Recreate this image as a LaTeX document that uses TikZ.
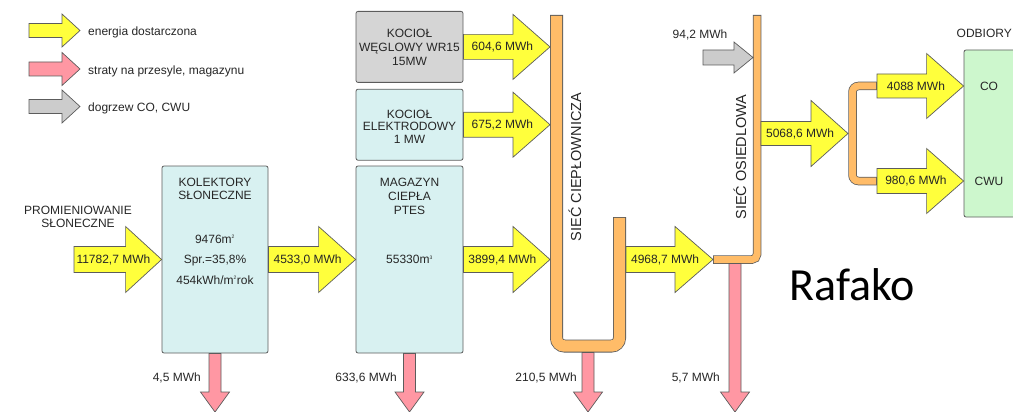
\documentclass[tikz,border=0pt]{standalone}
\usepackage{fontspec}
\setmainfont{Liberation Sans}
\newfontfamily\logofont{Carlito}
\usepackage{xcolor}
\usetikzlibrary{calc,positioning}
\definecolor{flowYellow}{HTML}{FFFF3C}
\definecolor{flowPink}{HTML}{FF97A3}
\definecolor{flowGrey}{HTML}{CCCCCC}
\definecolor{flowEdge}{HTML}{5C5C5C}
\definecolor{boxBlue}{HTML}{D8F1F1}
\definecolor{boxGrey}{HTML}{D5D5D5}
\definecolor{boxGreen}{HTML}{CDF7CD}
\definecolor{pipeOrange}{HTML}{FFBC68}
\definecolor{labelInk}{HTML}{262626}
\newcommand{\areaUnit}{m\textsuperscript{\fontsize{5}{5}\selectfont 2}}
\newcommand{\volUnit}{m\textsuperscript{\fontsize{5}{5}\selectfont 3}}
% block arrow: style, shaft half, head half, head length, from, to, name, text
\newcommand{\sideArrow}[8]{%
  \draw[#1] let \p1=#5, \p2=#6 in
    (\x1,\y1+#2) -- (\x2-#4,\y1+#2) -- (\x2-#4,\y1+#3) -- (\x2,\y1)
    -- (\x2-#4,\y1-#3) -- (\x2-#4,\y1-#2) -- (\x1,\y1-#2) -- cycle
    node[flowText] (#7) at ({\x1+0.45*(\x2-\x1)},\y1) {#8};}
% loss arrow pointing down
\newcommand{\dropArrow}[2]{%
  \draw[loss] let \p1=#1, \p2=#2 in
    (\x1-6pt,\y1) -- (\x1-6pt,\y2+20pt) -- (\x1-14.5pt,\y2+20pt) -- (\x1,\y2)
    -- (\x1+14.5pt,\y2+20pt) -- (\x1+6pt,\y2+20pt) -- (\x1+6pt,\y1) -- cycle;}
\tikzset{
  unit/.style={
    rectangle,
    rounded corners=2pt,
    draw=flowEdge,
    line width=0.8pt,
    inner sep=0pt
  },
  unitBlue/.style={unit, fill=boxBlue, minimum width=107pt},
  unitGrey/.style={unit, fill=boxGrey, minimum width=107pt},
  unitGreen/.style={unit, fill=boxGreen},
  unitText/.style={
    align=center,
    inner sep=0pt,
    text=labelInk,
    font=\fontsize{12}{14}\selectfont
  },
  flowText/.style={
    inner sep=0pt,
    text=labelInk,
    font=\fontsize{12}{13}\selectfont
  },
  pipeText/.style={
    inner sep=0pt,
    text=labelInk,
    font=\fontsize{14.5}{15}\selectfont
  },
  gain/.style={draw=flowEdge, line width=0.7pt, fill=flowYellow},
  loss/.style={draw=flowEdge, line width=0.7pt, fill=flowPink},
  extra/.style={draw=flowEdge, line width=0.7pt, fill=flowGrey},
  pipeOuter/.style={draw=flowEdge, line width=13pt},
  pipeInner/.style={draw=pipeOrange, line width=11.4pt, shorten <=0.8pt, shorten >=0.8pt}
}
\begin{document}
\begin{tikzpicture}[x=1pt,y=-1pt]
  \useasboundingbox (0,0) rectangle (1013,412);
  \coordinate (floor) at (0,412);

  % legend
  \coordinate (legGainA) at (29,30.5);
  \coordinate (legGainB) at (80,30.5);
  \coordinate (legLossA) at (29,69);
  \coordinate (legLossB) at (80,69);
  \coordinate (legExtraA) at (29,106.5);
  \coordinate (legExtraB) at (80,106.5);
  \sideArrow{gain}{7pt}{16.5pt}{18pt}{(legGainA)}{(legGainB)}{legGainMark}{}
  \sideArrow{loss}{7pt}{16.5pt}{18pt}{(legLossA)}{(legLossB)}{legLossMark}{}
  \sideArrow{extra}{7pt}{16.5pt}{18pt}{(legExtraA)}{(legExtraB)}{legExtraMark}{}
  \node[flowText, anchor=west] (legGain) at (88,32) {energia dostarczona};
  \node[flowText, anchor=west] (legLoss) at (88,71) {straty na przesyle, magazynu};
  \node[flowText, anchor=west] (legExtra) at (88,108) {dogrzew CO, CWU};

  % units
  \node[unitBlue, minimum width=106pt, minimum height=187pt] (kolektory) at (215,259.5) {};
  \node[unitBlue, minimum height=187pt] (magazyn) at (409.5,259.5) {};
  \node[unitBlue, minimum height=71pt, above=5pt of magazyn] (elektrodowy) {};
  \node[unitGrey, minimum height=71pt, above=6pt of elektrodowy] (weglowy) {};
  \node[unitGreen, minimum width=60pt, minimum height=167pt] (odbiory) at (994,133.5) {};

  \node[unitText, font=\fontsize{12}{13}\selectfont] (kolektoryName)
    at ([yshift=-23.5pt]kolektory.north) {KOLEKTORY\\SŁONECZNE};
  \node[unitText, font=\fontsize{12}{20.5}\selectfont] (kolektoryData)
    at (kolektory.center) {9476\areaUnit\\Spr.=35,8\%\\454kWh/\areaUnit rok};
  \node[unitText] (magazynName) at ([yshift=-31pt]magazyn.north) {MAGAZYN\\CIEPŁA\\PTES};
  \node[unitText] (magazynData) at (magazyn.center) {55330\volUnit};
  \node[unitText] (weglowyName) at ([yshift=-0.5pt]weglowy.center) {KOCIOŁ\\WĘGLOWY WR15\\15MW};
  \node[unitText, font=\fontsize{12}{12.5}\selectfont] (elektrodowyName)
    at ([yshift=-2pt]elektrodowy.center) {KOCIOŁ\\ELEKTRODOWY\\1 MW};
  \node[unitText] (odbioryCO) at (989,86) {CO};
  \node[unitText] (odbioryCWU) at (989,181) {CWU};
  \node[flowText, anchor=east] (odbioryName) at (1012,33) {ODBIORY};

  % pipes
  \draw[pipeOuter, rounded corners=8pt] (556.5,15) -- (556.5,346) -- (619.5,346) -- (619.5,217);
  \draw[pipeInner, rounded corners=8pt] (556.5,15) -- (556.5,346) -- (619.5,346) -- (619.5,217);
  \draw[pipeOuter, line width=8.5pt, rounded corners=5pt] (757,15) -- (757,259.5) -- (713,259.5);
  \draw[pipeInner, line width=7pt, rounded corners=5pt] (757,15) -- (757,259.5) -- (713,259.5);
  \draw[pipeOuter, line width=8.5pt, rounded corners=6pt] (877,86) -- (852.5,86) -- (852.5,181) -- (877,181);
  \draw[pipeInner, line width=7pt, rounded corners=6pt] (877,86) -- (852.5,86) -- (852.5,181) -- (877,181);
  \node[pipeText, rotate=90] (cieplowniczaName) at (575,167) {SIEĆ CIEPŁOWNICZA};
  \node[pipeText, rotate=90] (osiedlowaName) at (740,157) {SIEĆ OSIEDLOWA};

  \coordinate (sunIn) at (74,259.5);
  \coordinate (cpInA) at (550,48.5);
  \coordinate (cpInB) at (550,125.5);
  \coordinate (cpInC) at (550,259.5);
  \coordinate (cpOut) at (626,259.5);
  \coordinate (cpLoss) at (588,352.5);
  \coordinate (osIn) at (713,259.5);
  \coordinate (osOut) at (761,133.5);
  \coordinate (osLoss) at (735,263.5);
  \coordinate (extraStart) at (703,57.5);
  \coordinate (extraEnd) at (753,57.5);
  \coordinate (forkIn) at (848,133.5);
  \coordinate (forkCO) at (877,86);
  \coordinate (forkCWU) at (877,181);

  % energy flows
  \sideArrow{gain}{13pt}{33pt}{36pt}{(sunIn)}{(kolektory.west)}{sunFlow}{11782,7 MWh}
  \sideArrow{gain}{13pt}{33pt}{37pt}{(kolektory.east)}{(magazyn.west)}{kolFlow}{4533,0 MWh}
  \sideArrow{gain}{12.5pt}{32.5pt}{37pt}{(weglowy.east)}{(cpInA)}{weglowyFlow}{604,6 MWh}
  \sideArrow{gain}{12.5pt}{32.5pt}{37pt}{(elektrodowy.east)}{(cpInB)}{elektroFlow}{675,2 MWh}
  \sideArrow{gain}{13pt}{33pt}{37pt}{(magazyn.east)}{(cpInC)}{magazynFlow}{3899,4 MWh}
  \sideArrow{gain}{13pt}{33pt}{38pt}{(cpOut)}{(osIn)}{cpFlow}{4968,7 MWh}
  \sideArrow{gain}{12pt}{33pt}{37pt}{(osOut)}{(forkIn)}{osFlow}{5068,6 MWh}
  \sideArrow{gain}{12pt}{32.5pt}{37pt}{(forkCO)}{(odbiory.west |- forkCO)}{coFlow}{4088 MWh}
  \sideArrow{gain}{12.5pt}{32.5pt}{37pt}{(forkCWU)}{(odbiory.west |- forkCWU)}{cwuFlow}{980,6 MWh}
  \sideArrow{extra}{7.5pt}{15.5pt}{19pt}{(extraStart)}{(extraEnd)}{extraFlow}{}

  % losses
  \dropArrow{(kolektory.south)}{(kolektory.south |- floor)}
  \dropArrow{(magazyn.south)}{(magazyn.south |- floor)}
  \dropArrow{(cpLoss)}{(cpLoss |- floor)}
  \dropArrow{(osLoss)}{(osLoss |- floor)}
  \node[flowText, anchor=east] (kolLoss) at (201,378) {4,5 MWh};
  \node[flowText, anchor=east] (magLoss) at (397,378) {633,6 MWh};
  \node[flowText, anchor=east] (cpLossText) at (577,378) {210,5 MWh};
  \node[flowText, anchor=east] (osLossText) at (720,378) {5,7 MWh};

  \node[flowText] (extraText) at (700,35) {94,2 MWh};
  \node[unitText, font=\fontsize{12}{12.3}\selectfont] (sunName) at (78,217) {PROMIENIOWANIE\\SŁONECZNE};
  \node[anchor=base, inner sep=0pt, font=\logofont\fontsize{46}{46}\selectfont] (rafako) at (852,300) {Rafako};
\end{tikzpicture}
\end{document}
